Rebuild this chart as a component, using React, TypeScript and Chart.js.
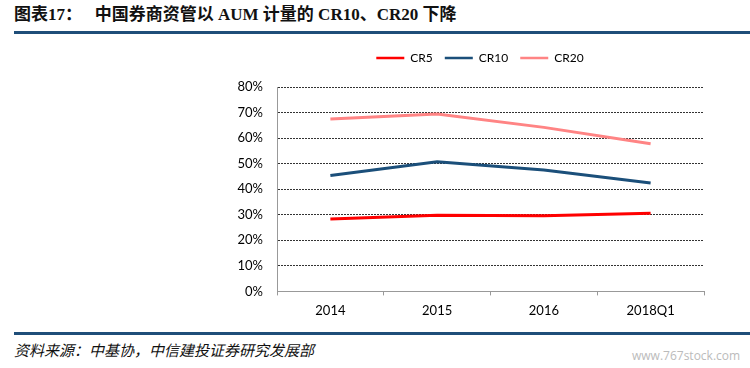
import React, { useEffect, useRef } from "react";
import { Chart, registerables } from "chart.js";

Chart.register(...registerables);

const categories = ["2014", "2015", "2016", "2018Q1"];
const cr5 = [28.3, 29.8, 29.6, 30.6];
const cr10 = [45.4, 50.7, 47.5, 42.4];
const cr20 = [67.5, 69.4, 64.2, 57.8];
const seriesNames = ["CR5", "CR10", "CR20"];
const seriesColors = ["#FF0000", "#1B4F7A", "#FF8484"];

const tickFont = { family: "Lato, 'Open Sans', sans-serif", size: 13 };

export default function App() {
  const ref = useRef<HTMLCanvasElement | null>(null);
  useEffect(() => {
    if (!ref.current) return;
    const chart = new Chart(ref.current, {
      type: "line",
      data: {
        labels: categories,
        datasets: [cr5, cr10, cr20].map((d, i) => ({
          label: seriesNames[i],
          data: d,
          borderColor: seriesColors[i],
          backgroundColor: seriesColors[i],
          borderWidth: 3,
          pointRadius: 0,
          tension: 0,
        })),
      },
      options: {
        animation: false,
        responsive: false,
        maintainAspectRatio: false,
        layout: { padding: { right: 46, top: 0, bottom: 0, left: 0 } },
        plugins: {
          tooltip: { enabled: false },
          legend: {
            position: "top",
            labels: {
              boxWidth: 28,
              boxHeight: 0,
              color: "#000",
              font: { family: "Lato, 'Open Sans', sans-serif", size: 12 },
              padding: 12,
              generateLabels: (c: any) =>
                Chart.defaults.plugins.legend.labels.generateLabels(c).map((l: any) => ({
                  ...l,
                  lineWidth: 2.5,
                })),
            },
          },
        },
        scales: {
          x: {
            offset: true,
            grid: {
              display: true,
              drawOnChartArea: false,
              drawTicks: true,
              tickLength: 4,
              color: "#999",
              offset: true,
            },
            border: { color: "#999" },
            ticks: { color: "#000", font: tickFont, padding: 8 },
          },
          y: {
            min: 0,
            max: 80,
            afterFit: (s: any) => {
              s.width = 57;
            },
            ticks: {
              stepSize: 10,
              color: "#000",
              font: tickFont,
              padding: 14,
              callback: (v: any) => v + "%",
            },
            grid: {
              drawTicks: false,
              color: (c: any) => (c.tick && c.tick.value === 0 ? "rgba(0,0,0,0)" : "#333"),
              lineWidth: 1,
            },
            border: { color: "#999", dash: [2, 1] },
          },
        },
      },
      plugins: [
        {
          id: "legendGap",
          beforeInit(c: any) {
            const lg = c.legend;
            if (lg) {
              const orig = lg.fit;
              lg.fit = function () {
                orig.call(this);
                this.height += 13;
              };
            }
          },
          afterLayout(c: any) {
            const lg = c.legend;
            if (lg) {
              lg.left += 18;
              lg.right += 18;
            }
          },
        },
      ],
    } as any);
    return () => chart.destroy();
  }, []);

  return (
    <div style={{ position: "fixed", left: 0, top: 0, width: 750, height: 368, background: "#fff", overflow: "hidden" }}>
      <div
        style={{
          position: "absolute",
          left: 14,
          top: 3,
          fontFamily: "'Liberation Serif', 'Noto Sans CJK SC', serif",
          fontWeight: "bold",
          fontSize: 17,
          color: "#111",
          whiteSpace: "pre",
          lineHeight: "24px",
        }}
      >
        图表17：   中国券商资管以 AUM 计量的 CR10、CR20 下降
      </div>
      <div style={{ position: "absolute", left: 14, top: 31, width: 736, height: 3, background: "#1F4E79" }} />
      <canvas ref={ref} width={530} height={287} style={{ position: "absolute", left: 220, top: 40 }} />
      <div style={{ position: "absolute", left: 14, top: 332, width: 736, height: 3, background: "#1F4E79" }} />
      <div
        style={{
          position: "absolute",
          left: 14,
          top: 339,
          fontFamily: "'Noto Sans CJK SC', sans-serif",
          fontStyle: "italic",
          fontSize: 15,
          lineHeight: "22px",
          color: "#111",
        }}
      >
        资料来源：中基协，中信建投证券研究发展部
      </div>
      <div
        style={{
          position: "absolute",
          left: 632,
          top: 348,
          fontFamily: "'Open Sans', sans-serif",
          fontSize: 12,
          lineHeight: "16px",
          color: "#bbb",
        }}
      >
        www.767stock.com
      </div>
    </div>
  );
}
